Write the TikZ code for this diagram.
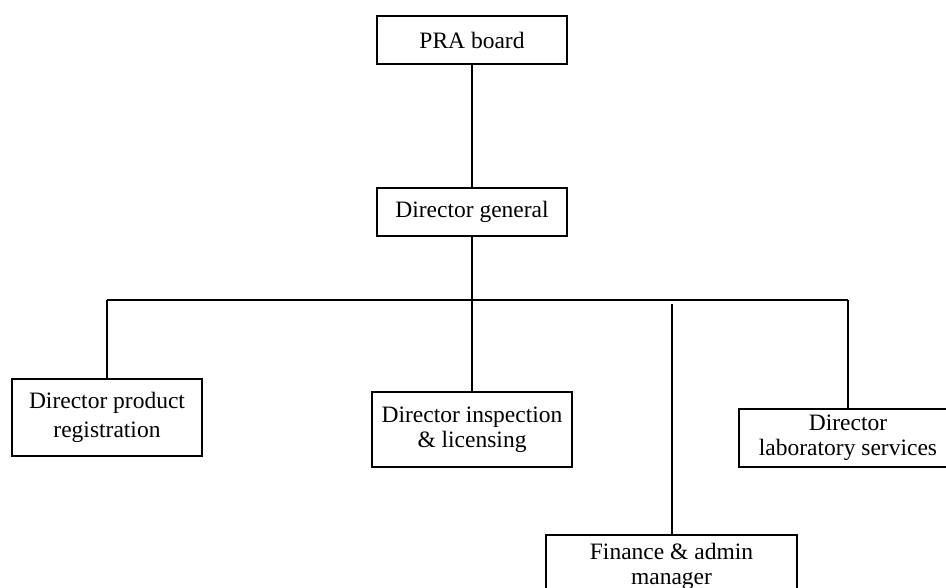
\documentclass[tikz,border=0pt]{standalone}
\usepackage{fontspec}
\setmainfont{Liberation Serif}
\begin{document}
\begin{tikzpicture}[x=1pt,y=-1pt,
  box/.style={draw=black,line width=2.2pt,rectangle,inner sep=0pt,align=center,
    font=\fontsize{23.5}{25}\selectfont},
  conn/.style={line width=2pt,black}]
\clip (0,0) rectangle (946,588);
\fill[white] (0,0) rectangle (946,588);
\node[box,minimum width=190pt,minimum height=48pt] (pra) at (472,40) {PRA board};
\node[box,minimum width=190pt,minimum height=48pt] (dg) at (472,212) {Director general};
\node[box,minimum width=190pt,minimum height=77pt,font=\fontsize{23.5}{29}\selectfont] (dpr) at (107,417.5) {Director product\\registration};
\node[box,minimum width=200pt,minimum height=75pt] (dil) at (472,429.5) {Director inspection\\\& licensing};
\node[box,minimum width=218pt,minimum height=58pt] (lab) at (848,438) {Director\\laboratory services};
\node[box,minimum width=251pt,minimum height=63pt] (fin) at (671.5,566.5) {Finance \& admin\\manager};
\coordinate (j) at (472,300);
\coordinate (bl) at (107,300);
\coordinate (br) at (848,300);
\coordinate (f) at (671.5,304);
\draw[conn] (pra) -- (dg);
\draw[conn] (dg) -- (j);
\draw[conn] (bl) -- (br);
\draw[conn] (bl) -- (dpr);
\draw[conn] (j) -- (dil);
\draw[conn] (br) -- (lab);
\draw[conn] (f) -- (fin);
\end{tikzpicture}
\end{document}
